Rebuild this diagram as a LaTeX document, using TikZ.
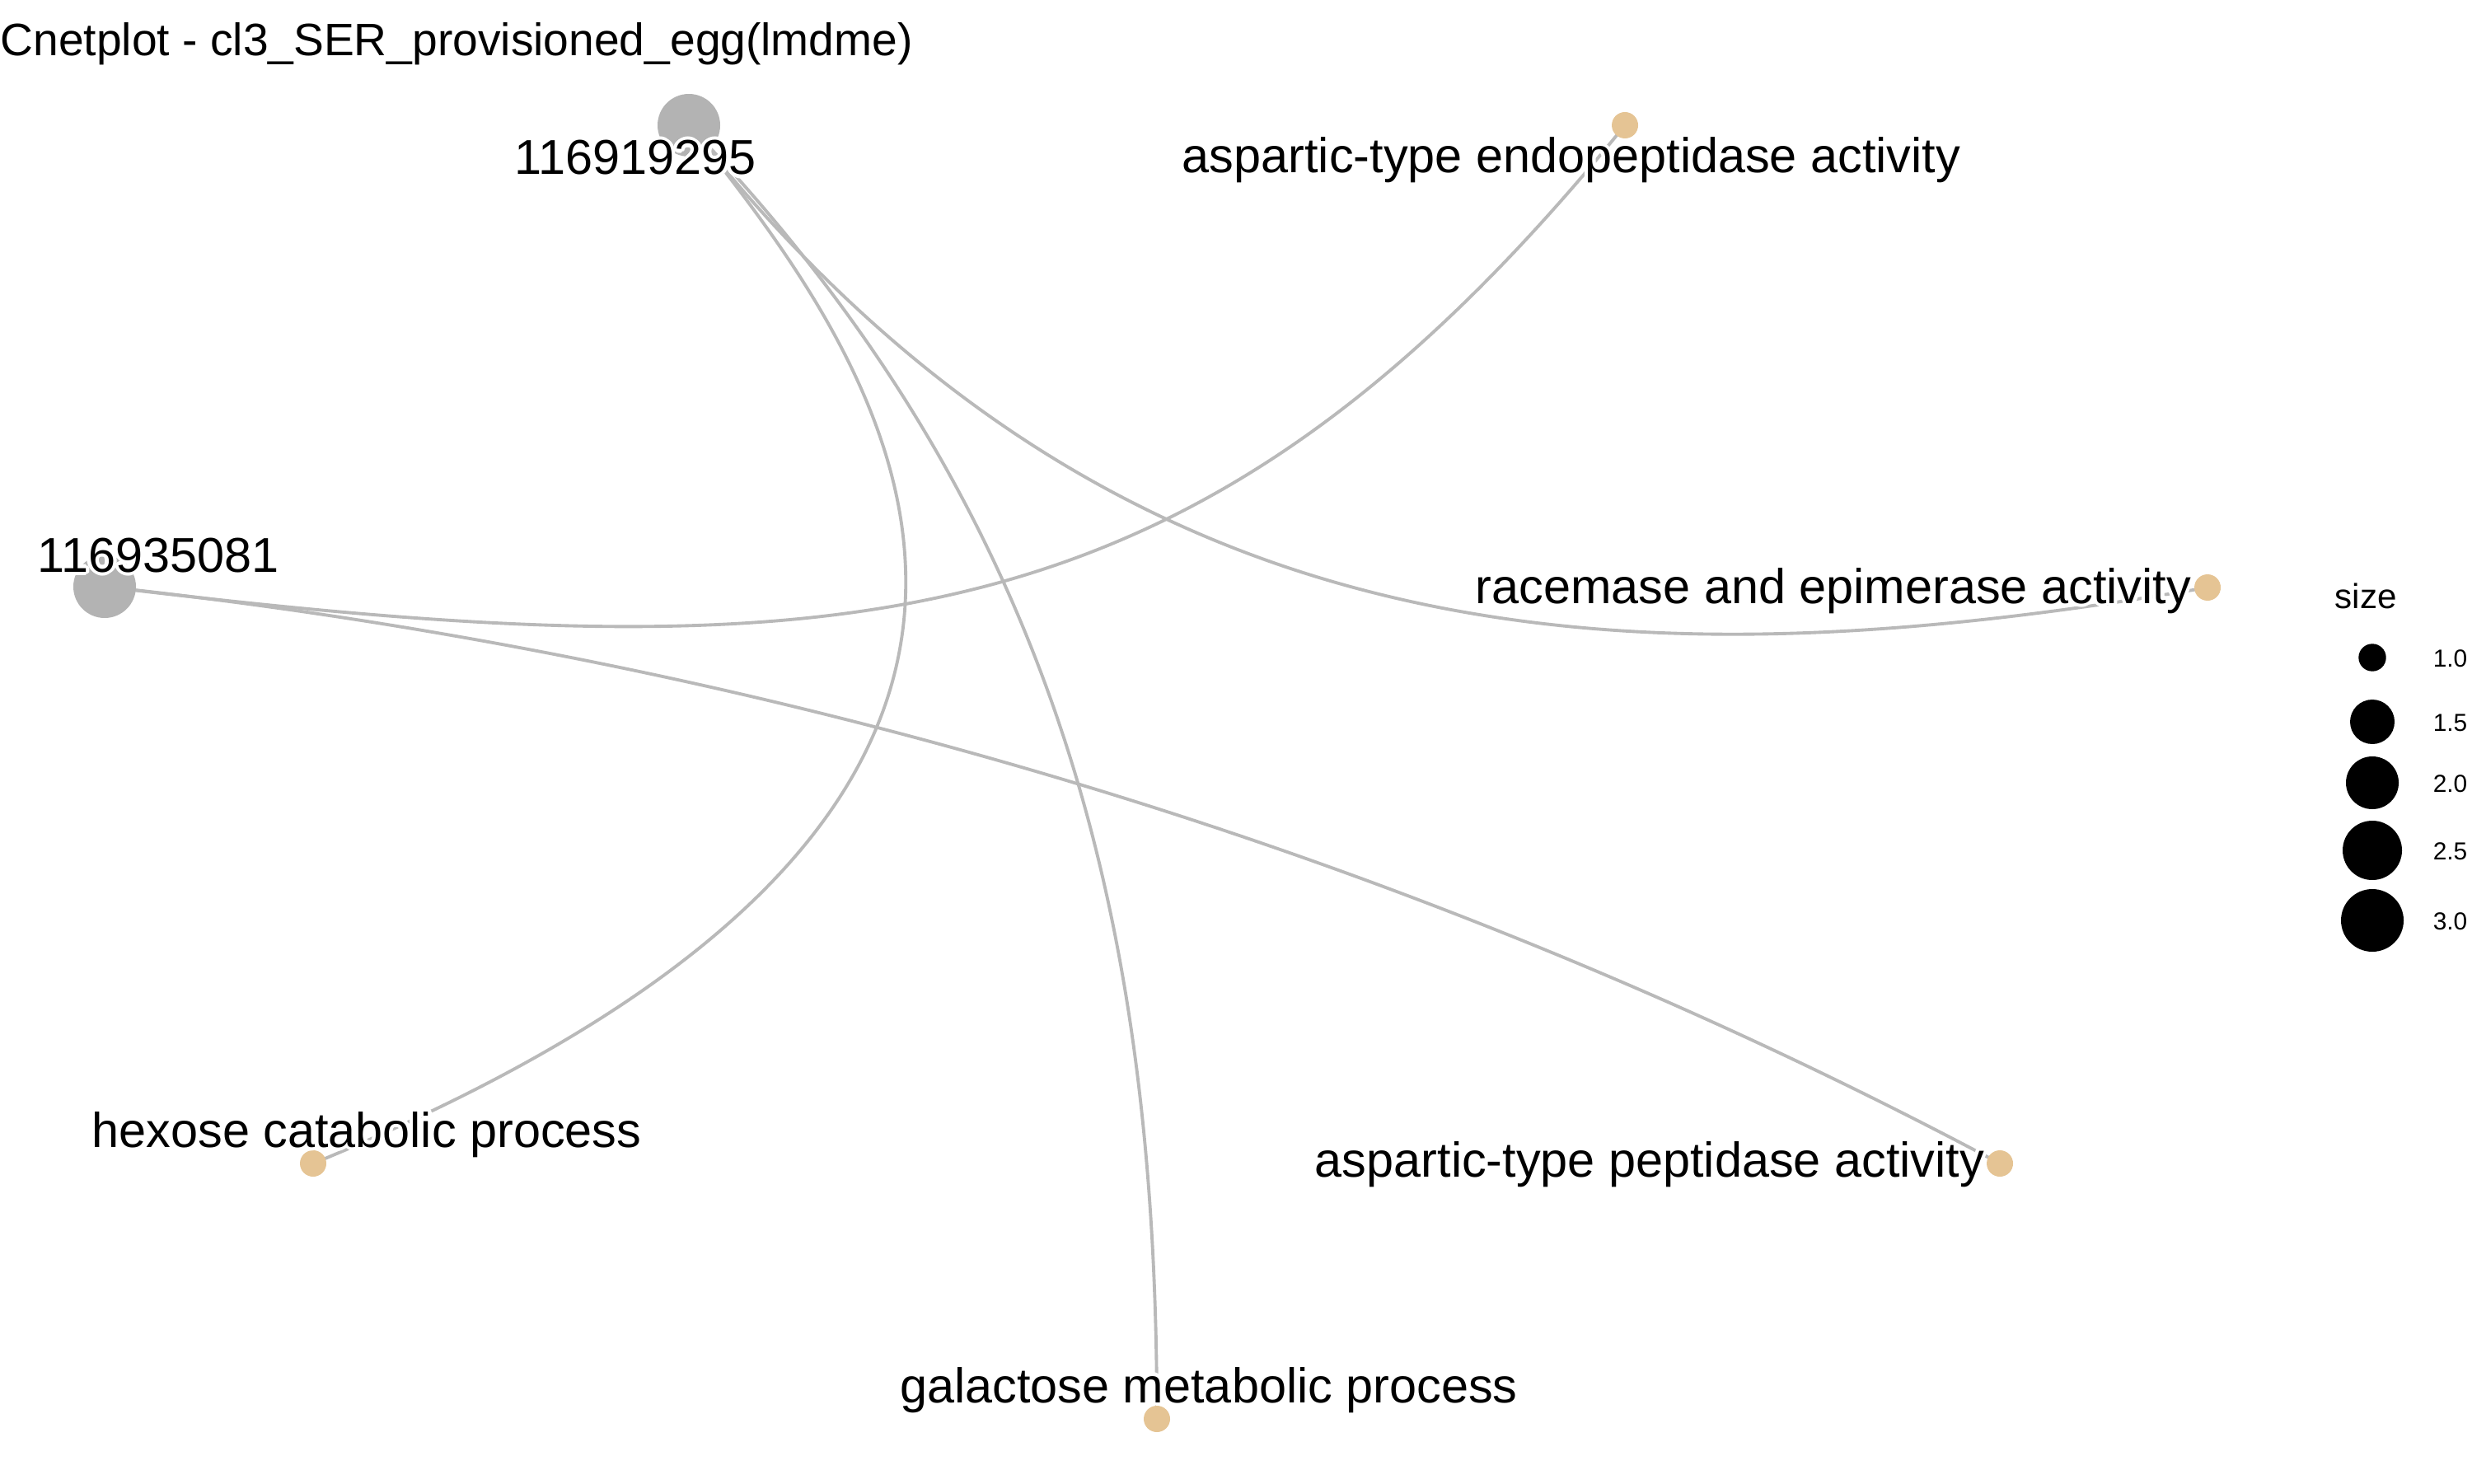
\documentclass[tikz,border=0pt]{standalone}
\usepackage{fontspec}
\setmainfont{Liberation Sans}
\usepackage[copies]{contour}
\contourlength{1.2pt}
\usetikzlibrary{positioning, backgrounds}
\definecolor{mygene}{RGB}{179,179,179}
\definecolor{myterm}{RGB}{229,196,148}
\definecolor{myedge}{RGB}{185,185,185}
\newcommand{\halo}[1]{\contour{white}{#1}}
\tikzset{
  gene/.style={circle, fill=mygene, inner sep=0pt, minimum size=0.76cm},
  term/.style={circle, fill=myterm, inner sep=0pt, minimum size=0.32cm},
  edge/.style={line width=1.1pt, color=myedge},
  lbl/.style={font=\fontsize{16.9}{20}\selectfont, inner sep=0pt, anchor=base},
  legdot/.style={circle, fill=black, inner sep=0pt},
  legtxt/.style={font=\fontsize{8.5}{10}\selectfont, inner sep=0pt, anchor=base west}
}

\begin{document}
\begin{tikzpicture}
  \useasboundingbox (0,0) rectangle (30,18);
  % Title
  \node[font=\fontsize{15.7}{18}\selectfont, inner sep=0pt, anchor=base west] (title) at (0,17.32) {Cnetplot - cl3\_SER\_provisioned\_egg(lmdme)};

  % Genes
  \node[gene] (g1) at (8.36,16.48) {};
  \node[gene] (g2) at (1.27,10.88) {};

  % Terms
  \node[term] (endo) at (19.72,16.48) {};
  \node[term] (race) at (26.79,10.87) {};
  \node[term] (hex) at (3.80,3.88) {};
  \node[term] (pep) at (24.27,3.88) {};
  \node[term] (gal) at (14.04,0.78) {};

  % Edges (behind the dots)
  \begin{scope}[on background layer]
    \draw[edge] (g1.center) .. controls +(2.0,-2.56) and +(11.1,4.56) .. (hex.center);
    \draw[edge] (g1.center) .. controls +(4.4,-4.6) and +(0,6.2) .. (gal.center);
    \draw[edge] (g1.center) .. controls +(5.2,-6.6) and +(-7.0,-1.2) .. (race.center);
    \draw[edge] (g2.center) .. controls +(9.0,-1.08) and +(-5.2,-6.4) .. (endo.center);
    \draw[edge] (g2.center) .. controls +(7.5,-0.8) and +(-7.5,4.0) .. (pep.center);
  \end{scope}

  % Labels
  \node[lbl] (g1lbl) at (7.71,15.88) {\halo{116919295}};
  \node[lbl] (g2lbl) at (1.92,11.06) {\halo{116935081}};
  \node[lbl] (endolbl) at (19.07,15.90) {\halo{aspartic-type endopeptidase activity}};
  \node[lbl] (racelbl) at (22.25,10.68) {\halo{racemase and epimerase activity}};
  \node[lbl] (hexlbl) at (4.45,4.08) {\halo{hexose catabolic process}};
  \node[lbl] (peplbl) at (20.02,3.72) {\halo{aspartic-type peptidase activity}};
  \node[lbl] (gallbl) at (14.67,0.98) {\halo{galactose metabolic process}};

  % Legend
  \node[font=\fontsize{12}{14}\selectfont, inner sep=0pt, anchor=base west] (legtitle) at (28.33,10.62) {size};
  \foreach \v/\y/\d [count=\i] in {1.0/10.02/0.334, 1.5/9.24/0.54, 2.0/8.50/0.64, 2.5/7.68/0.72, 3.0/6.83/0.76} {
    \node[legdot, minimum size=\d cm] (dot\i) at (28.79,\y) {};
    \node[legtxt] (val\i) at (29.52,\y-0.11) {\v};
  }
\end{tikzpicture}
\end{document}
